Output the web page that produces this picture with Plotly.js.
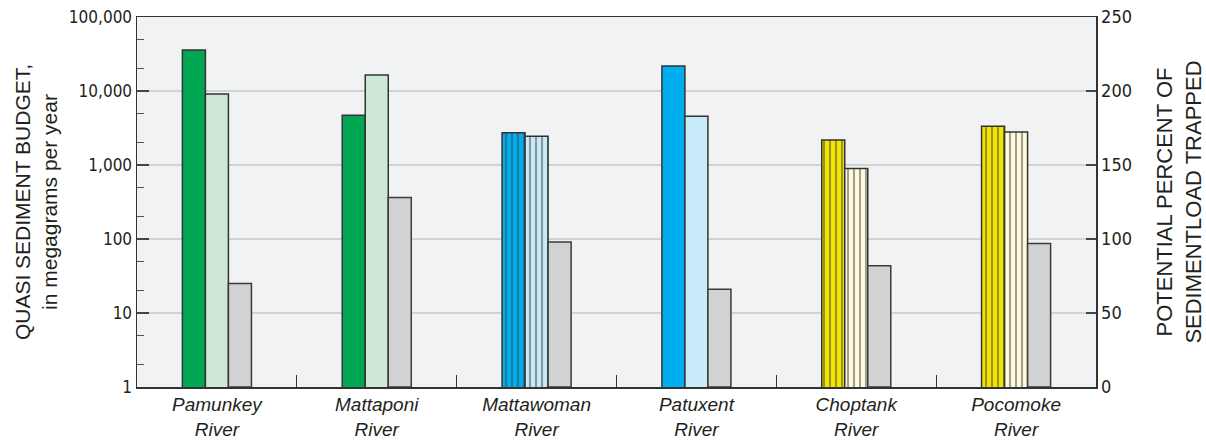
<!DOCTYPE html>
<html>
<head>
<meta charset="utf-8">
<script src="https://cdn.plot.ly/plotly-3.0.1.min.js"></script>
<style>
  html, body { margin: 0; padding: 0; background: #ffffff; }
  #chart { width: 1206px; height: 440px; }
</style>
</head>
<body>
<div id="chart"></div>
<script>
// Rivers along the x axis
const rivers = [
  'Pamunkey<br>River', 'Mattaponi<br>River', 'Mattawoman<br>River',
  'Patuxent<br>River', 'Choptank<br>River', 'Pocomoke<br>River'
];

// Sediment budget, megagrams per year (log scale, left axis)
const sedimentIn  = [35800, 4700, 2730, 21800, 2180, 3340];
const sedimentOut = [9100, 16400, 2440, 4550, 900, 2790];

// Potential percent of sediment load trapped (right axis)
const percentTrapped = [70, 128, 98, 66, 82, 97];

// Left-axis tick labels
const logTickVals = [1, 10, 100, 1000, 10000, 100000];
const logTickText = ['1', '10', '100', '1,000', '10,000', '100,000'];

// Per-river fill colours and stripe pattern
const darkColors  = ['#00a651', '#00a651', '#00aeef', '#00aeef', '#f4e500', '#f4e500'];
const lightColors = ['#cde8d5', '#cde8d5', '#c8eaf9', '#c8eaf9', '#fffbdc', '#fffbdc'];
const stripes     = ['', '', '|', '', '|', '|'];

const narrow = '"Liberation Sans Narrow", "Arial Narrow", "DejaVu Sans Condensed", sans-serif';
const sans = '"Liberation Sans", Arial, Helvetica, sans-serif';
const outline = { color: '#333333', width: 1.5 };
const barW = 0.144;

// Dark vertical stripes laid over the bar's own fill colour
const stripePattern = {
  shape: stripes,
  size: 6,
  solidity: 0.35,
  fgcolor: '#2a2a2a',
  fillmode: 'overlay'
};

const traces = [
  {
    type: 'bar', x: rivers, y: sedimentIn, yaxis: 'y',
    width: barW, offset: -1.5 * barW,
    marker: { color: darkColors, line: outline, pattern: stripePattern },
    hoverinfo: 'x+y'
  },
  {
    type: 'bar', x: rivers, y: sedimentOut, yaxis: 'y',
    width: barW, offset: -0.5 * barW,
    marker: { color: lightColors, line: outline, pattern: stripePattern },
    hoverinfo: 'x+y'
  },
  {
    type: 'bar', x: rivers, y: percentTrapped, yaxis: 'y2',
    width: barW, offset: 0.5 * barW,
    marker: { color: '#d1d2d4', line: { color: '#3a3a3a', width: 1.5 } },
    hoverinfo: 'x+y'
  }
];

const layout = {
  width: 1206,
  height: 440,
  margin: { l: 137, r: 110, t: 17, b: 53 },
  paper_bgcolor: '#ffffff',
  plot_bgcolor: '#f1f2f4',
  showlegend: false,
  barmode: 'overlay',
  xaxis: {
    type: 'category',
    tickson: 'boundaries',
    ticks: 'inside',
    ticklen: 12,
    tickwidth: 1.3,
    tickcolor: '#333333',
    showline: true,
    linecolor: '#333333',
    linewidth: 1.5,
    mirror: true,
    showgrid: false,
    tickfont: { family: sans, size: 19, color: '#231f20', style: 'italic' },
    automargin: false
  },
  yaxis: {
    type: 'log',
    range: [0, 5],
    tickvals: logTickVals,
    ticktext: logTickText,
    ticks: 'inside',
    ticklen: 12,
    tickwidth: 1.3,
    tickcolor: '#444444',
    minor: { ticks: 'inside', ticklen: 7, tickwidth: 1, tickcolor: '#555555', showgrid: false },
    showline: true,
    linecolor: '#333333',
    linewidth: 1.5,
    showgrid: true,
    gridcolor: '#d2d3d5',
    gridwidth: 2,
    zeroline: false,
    tickfont: { family: narrow, size: 17, color: '#231f20' },
    title: {
      text: 'QUASI SEDIMENT BUDGET,<br>in megagrams per year',
      font: { family: sans, size: 21, color: '#231f20' },
      standoff: 5
    },
    automargin: false
  },
  yaxis2: {
    overlaying: 'y',
    side: 'right',
    range: [0, 250],
    dtick: 50,
    ticks: 'inside',
    ticklen: 10,
    tickwidth: 1.3,
    tickcolor: '#444444',
    showline: true,
    linecolor: '#333333',
    linewidth: 1.5,
    showgrid: false,
    zeroline: false,
    tickfont: { family: narrow, size: 18, color: '#231f20' },
    title: {
      text: 'POTENTIAL PERCENT OF<br>SEDIMENTLOAD TRAPPED',
      font: { family: sans, size: 22, color: '#231f20' },
      standoff: 36
    },
    automargin: false
  }
};

Plotly.newPlot('chart', traces, layout, { displayModeBar: false, staticPlot: true });
</script>
</body>
</html>
